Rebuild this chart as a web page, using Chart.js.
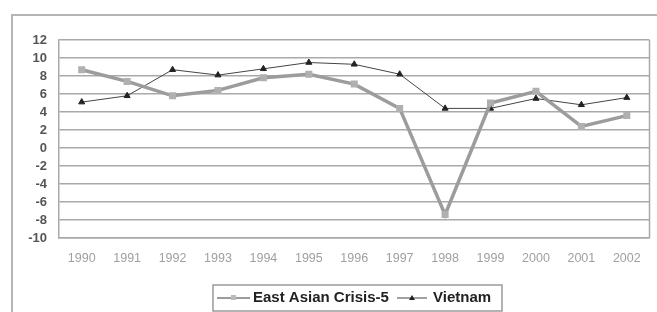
<!DOCTYPE html>
<html>
<head>
<meta charset="utf-8">
<script src="https://cdn.jsdelivr.net/npm/chart.js@4.4.1/dist/chart.umd.min.js"></script>
<style>
  html, body { margin: 0; padding: 0; background: #fff; }
  #wrap { position: relative; width: 657px; height: 312px; }
</style>
</head>
<body>
<div id="wrap"><canvas id="grafico" width="657" height="312"></canvas></div>
<script>
// Dados
const anos = ['1990', '1991', '1992', '1993', '1994', '1995', '1996', '1997', '1998', '1999', '2000', '2001', '2002'];
const criseAsia = [8.7, 7.4, 5.8, 6.4, 7.8, 8.2, 7.1, 4.4, -7.4, 5.0, 6.3, 2.4, 3.6];
const vietna = [5.1, 5.8, 8.7, 8.1, 8.8, 9.5, 9.3, 8.2, 4.4, 4.4, 5.5, 4.8, 5.6];
const marcasY = [12, 10, 8, 6, 4, 2, 0, -2, -4, -6, -8, -10];

const corGrade = '#a9a9a9';

// Moldura externa e borda direita da área do gráfico
const moldura = {
  id: 'moldura',
  beforeDraw(chart) {
    const ctx = chart.ctx;
    ctx.save();
    ctx.strokeStyle = '#b5b5b5';
    ctx.lineWidth = 2;
    ctx.beginPath();
    ctx.moveTo(12, 312);
    ctx.lineTo(12, 15);
    ctx.lineTo(657, 15);
    ctx.stroke();
    ctx.restore();
  },
  afterDatasetsDraw(chart) {
    const a = chart.chartArea;
    const ctx = chart.ctx;
    ctx.save();
    ctx.strokeStyle = corGrade;
    ctx.lineWidth = 1.5;
    ctx.beginPath();
    ctx.moveTo(a.right, a.top);
    ctx.lineTo(a.right, a.bottom);
    ctx.stroke();
    ctx.restore();
  }
};

// Legenda com caixa, desenhada à mão
const legenda = {
  id: 'legenda',
  afterDraw(chart) {
    const ctx = chart.ctx;
    const ds = chart.data.datasets;
    ctx.save();
    ctx.strokeStyle = '#9a9a9a';
    ctx.lineWidth = 1.5;
    ctx.strokeRect(213, 285, 289, 26);

    ctx.font = 'bold 15px "Liberation Sans", Arial, sans-serif';
    ctx.fillStyle = '#222';
    ctx.textBaseline = 'middle';

    // série 1
    ctx.strokeStyle = ds[0].borderColor;
    ctx.lineWidth = 2;
    ctx.beginPath(); ctx.moveTo(217, 298); ctx.lineTo(250, 298); ctx.stroke();
    ctx.fillStyle = '#bbb';
    ctx.fillRect(231, 295, 5, 5);
    ctx.fillStyle = '#222';
    ctx.fillText(ds[0].label, 253, 298);

    // série 2
    ctx.strokeStyle = ds[1].borderColor;
    ctx.lineWidth = 1;
    ctx.beginPath(); ctx.moveTo(397, 298); ctx.lineTo(427, 298); ctx.stroke();
    ctx.beginPath();
    ctx.moveTo(412, 295); ctx.lineTo(415, 300); ctx.lineTo(409, 300); ctx.closePath();
    ctx.fill();
    ctx.fillText(ds[1].label, 433, 298);
    ctx.restore();
  }
};

const ctx = document.getElementById('grafico').getContext('2d');
new Chart(ctx, {
  type: 'line',
  data: {
    labels: anos,
    datasets: [{
      label: 'East Asian Crisis-5',
      data: criseAsia,
      borderColor: '#9c9c9c',
      borderWidth: 3.5,
      pointStyle: 'rect',
      pointRadius: 2.5,
      pointBackgroundColor: '#b0b0b0',
      pointBorderColor: '#b0b0b0',
      tension: 0
    }, {
      label: 'Vietnam',
      data: vietna,
      borderColor: '#444',
      borderWidth: 1,
      pointStyle: 'triangle',
      pointRadius: 3.5,
      pointBackgroundColor: '#222',
      pointBorderColor: '#222',
      tension: 0
    }]
  },
  options: {
    responsive: false,
    animation: false,
    layout: { padding: { top: 40, right: 4, bottom: 0, left: 0 } },
    plugins: { legend: { display: false }, tooltip: { enabled: false } },
    scales: {
      x: {
        offset: true,
        afterFit(s) { s.height = 74; },
        grid: { display: false, drawTicks: false, offset: true },
        border: { display: true, color: corGrade, width: 1.5 },
        ticks: {
          padding: 13,
          maxRotation: 0,
          autoSkip: false,
          color: '#a0a0a0',
          font: { family: '"Liberation Sans", Arial, sans-serif', size: 12.5 }
        }
      },
      y: {
        min: -10,
        max: 12,
        afterFit(s) { s.width = 59; },
        afterBuildTicks(s) { s.ticks = marcasY.map(v => ({ value: v })); },
        grid: { color: corGrade, lineWidth: 1.5, drawTicks: false },
        border: { display: true, color: corGrade, width: 1.5 },
        ticks: {
          autoSkip: false,
          padding: 12,
          color: '#555',
          font: { family: '"Liberation Sans", Arial, sans-serif', size: 13, weight: 'bold' }
        }
      }
    }
  },
  plugins: [moldura, legenda]
});
</script>
</body>
</html>
